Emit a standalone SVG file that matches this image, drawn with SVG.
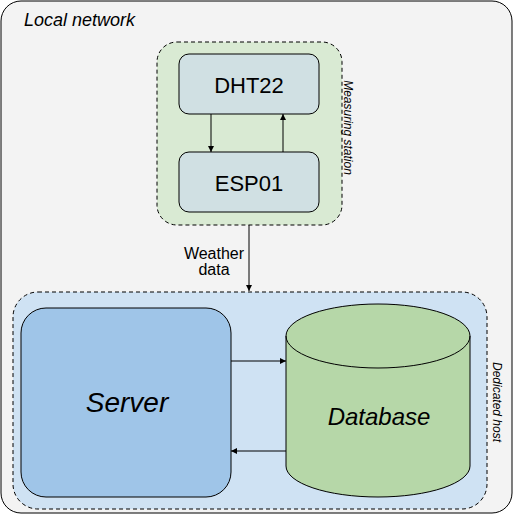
<svg xmlns="http://www.w3.org/2000/svg" width="513" height="514" viewBox="0 0 513 514">
<style>
text{font-family:"Liberation Sans",Arial,sans-serif;fill:#000}
.it{font-style:italic}
.box{stroke:#000;stroke-width:1}
.dash{stroke:#000;stroke-width:1;stroke-dasharray:4,3}
.conn{stroke:#000;stroke-width:1;fill:none}
</style>
<defs>
<marker id="ah" viewBox="0 0 10 10" refX="10" refY="5" markerWidth="6" markerHeight="6" orient="auto" markerUnits="userSpaceOnUse">
<path d="M0,0 L10,5 L0,10 z" fill="#000"/>
</marker>
</defs>
<g id="local-network">
<rect x="1" y="1" width="511" height="512" rx="20" ry="20" fill="#f3f3f3" class="box"/>
<text x="24" y="26" font-size="18" class="it">Local network</text>
</g>
<g id="measuring-station">
<rect x="157" y="42" width="185" height="183" rx="20" ry="20" fill="#d9ead3" class="dash"/>
<text transform="translate(344,127.5) rotate(90)" font-size="12" text-anchor="middle" class="it">Measuring station</text>
</g>
<g id="dht22">
<rect x="179" y="54" width="140" height="60" rx="10" ry="10" fill="#d0e0e3" class="box"/>
<text x="249" y="93" font-size="22" text-anchor="middle">DHT22</text>
</g>
<g id="esp01">
<rect x="179" y="152" width="140" height="60" rx="10" ry="10" fill="#d0e0e3" class="box"/>
<text x="249" y="191" font-size="22" text-anchor="middle">ESP01</text>
</g>
<g id="dedicated-host">
<rect x="13" y="292" width="474" height="217" rx="25" ry="25" fill="#cfe2f3" class="dash"/>
<text transform="translate(493,402) rotate(90)" font-size="12" text-anchor="middle" class="it">Dedicated host</text>
</g>
<g id="server">
<rect x="21" y="308" width="210" height="189" rx="25" ry="25" fill="#9fc5e8" class="box"/>
<text x="127" y="412" font-size="28" text-anchor="middle" class="it">Server</text>
</g>
<g id="database">
<path d="M286,336 L286,466 A92,31 0 0 0 470,466 L470,336 A92,32 0 0 0 286,336 Z" fill="#b6d7a8" class="box"/>
<path d="M286,336 A92,32 0 0 0 470,336" fill="none" class="box"/>
<text x="379" y="425" font-size="24" text-anchor="middle" class="it">Database</text>
</g>
<g id="connectors">
<line x1="211" y1="114" x2="211" y2="152" class="conn" marker-end="url(#ah)"/>
<line x1="283" y1="152" x2="283" y2="114" class="conn" marker-end="url(#ah)"/>
<line x1="249" y1="225" x2="249" y2="291" class="conn" marker-end="url(#ah)"/>
<line x1="231" y1="361" x2="286" y2="361" class="conn" marker-end="url(#ah)"/>
<line x1="286" y1="451" x2="231" y2="451" class="conn" marker-end="url(#ah)"/>
<text x="214" y="259" font-size="16" text-anchor="middle">Weather</text>
<text x="214" y="275" font-size="16" text-anchor="middle">data</text>
</g>
</svg>
